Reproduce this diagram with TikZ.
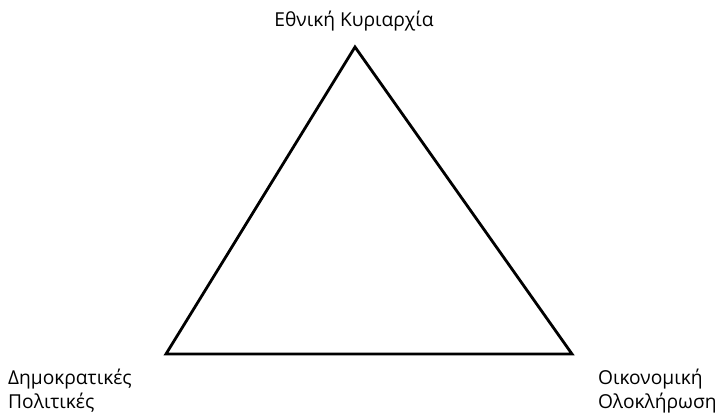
\documentclass[tikz,border=0pt]{standalone}
\usepackage{fontspec}
\setmainfont{Open Sans}
\begin{document}
\begin{tikzpicture}[x=1pt,y=-1pt,
  lbl/.style={inner sep=0pt,font=\fontsize{19.2}{25}\selectfont,align=left},
  edge/.style={line width=2.8pt,line join=miter}]
\useasboundingbox (0,0) rectangle (722,414);
\coordinate (A) at (355,47);
\coordinate (B) at (166,354);
\coordinate (C) at (572,354);
\draw[edge] (A) -- (B) -- (C) -- cycle;
\node[lbl,anchor=base] (top) at (354,27) {Εθνική Κυριαρχία};
\node[lbl,anchor=base west] (l1) at (8,384) {Δημοκρατικές};
\node[lbl,anchor=base west] (l2) at (8,408.5) {Πολιτικές};
\node[lbl,anchor=base west] (r1) at (598,384) {Οικονομική};
\node[lbl,anchor=base west] (r2) at (598,408.5) {Ολοκλήρωση};
\end{tikzpicture}
\end{document}
